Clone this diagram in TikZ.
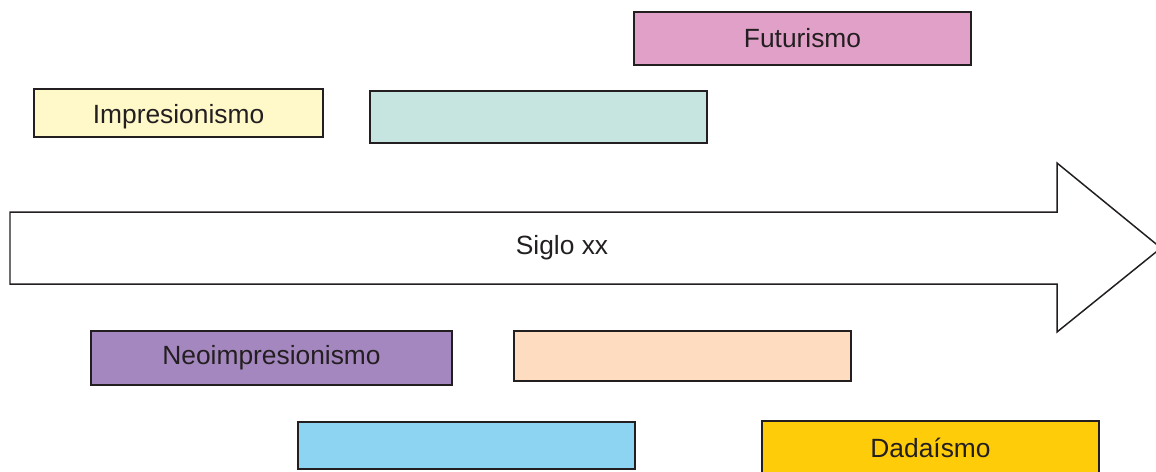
\documentclass[tikz,border=0pt]{standalone}
\usepackage{fontspec}
\setmainfont{Liberation Sans}
\usepackage{xcolor}

\definecolor{rosa}{HTML}{E0A0C8}
\definecolor{amarillo}{HTML}{FFF8C8}
\definecolor{verdeagua}{HTML}{C6E5E0}
\definecolor{morado}{HTML}{A587C0}
\definecolor{melocoton}{HTML}{FDDCC0}
\definecolor{celeste}{HTML}{8DD4F3}
\definecolor{oro}{HTML}{FFCC0A}
\definecolor{borde}{HTML}{231F20}

\begin{document}
\begin{tikzpicture}[x=0.02cm,y=-0.02cm,
    caja/.style={draw=borde,line width=0.85pt,inner sep=0pt,text=borde,
                 font=\fontsize{15}{18}\selectfont}]
            		\useasboundingbox (0,0) rectangle (1156,471);
            		\clip (0,0) rectangle (1156,471);

            		% flecha del siglo
            		\draw [draw=borde,line width=0.85pt,fill=white]
            		      (10,212) -- (1057,212) -- (1057,163) -- (1161,248)
            		      -- (1057,332) -- (1057,284) -- (10,284) -- cycle;
            		\node (siglo) at (562,248) [text=borde,font=\fontsize{15}{18}\selectfont] {Siglo xx};

            		% arriba
            		\node (fut) at (802.5,38.5) [caja,fill=rosa,minimum width=6.74cm,minimum height=1.06cm] {Futurismo};
            		\node (imp) at (178.5,113) [caja,fill=amarillo,minimum width=5.78cm,minimum height=0.96cm] {};
            		\node (impt) at (imp.center) [yshift=-0.08cm,text=borde,font=\fontsize{15}{18}\selectfont] {Impresionismo};
            		\node (b1) at (538.5,117) [caja,fill=verdeagua,minimum width=6.74cm,minimum height=1.04cm] {};

            		% abajo
            		\node (neo) at (271.5,358) [caja,fill=morado,minimum width=7.22cm,minimum height=1.08cm] {Neoimpresionismo};
            		\node (b2) at (682.5,356) [caja,fill=melocoton,minimum width=6.74cm,minimum height=1.0cm] {};
            		\node (b3) at (466.5,445.5) [caja,fill=celeste,minimum width=6.74cm,minimum height=0.94cm] {};
            		\node (dada) at (930.5,448) [caja,fill=oro,minimum width=6.74cm,minimum height=1.08cm] {Dadaísmo};
\end{tikzpicture}
\end{document}
